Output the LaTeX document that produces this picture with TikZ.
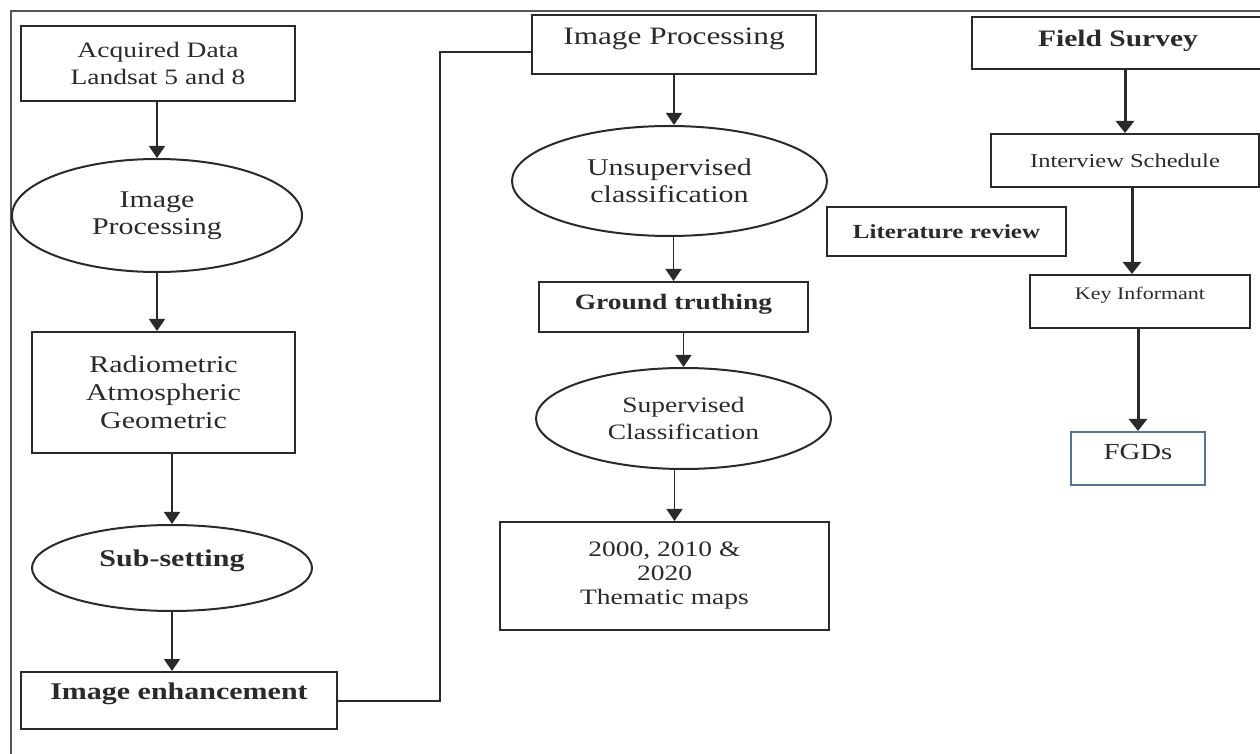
\documentclass[tikz,border=0pt]{standalone}
\usepackage{fontspec}
\setmainfont{Liberation Serif}[FakeStretch=1.25]
\usetikzlibrary{arrows.meta,shapes.geometric}
\definecolor{ink}{HTML}{2A2A2A}
\definecolor{frame}{HTML}{555555}
\definecolor{bluegray}{HTML}{5A7391}
\tikzset{
  box/.style={draw=ink, line width=1pt, rectangle, inner sep=0pt, align=center, text=ink},
  oval/.style={draw=ink, line width=1pt, ellipse, inner sep=0pt, align=center, text=ink},
  arr/.style={draw=ink, line width=0.75pt, -{Triangle[length=6pt,width=8pt]}},
  tarr/.style={draw=ink, line width=1.5pt, -{Triangle[length=6pt,width=9pt]}},
  big/.style={font=\fontsize{11}{13.5}\selectfont},
  large/.style={font=\fontsize{12}{13.5}\selectfont},
}
\begin{document}
\begin{tikzpicture}[x=0.5pt, y=-0.5pt]
\useasboundingbox (0,0) rectangle (1260,754);
% frame
\draw[frame, line width=0.75pt] (1262,11) -- (11,11) -- (11,756);
% left column
\node[box, big, minimum width=137pt, minimum height=37.5pt] (acq) at (158,63.5) {Acquired Data\\Landsat 5 and 8};
\node[oval, large, minimum width=145pt, minimum height=56.5pt] (ip1) at (157,215.5) {Image\\Processing};
\node[box, minimum width=131.5pt, minimum height=60.5pt, font=\fontsize{12}{14}\selectfont] (rad) at (163.5,392.5) {Radiometric\\Atmospheric\\Geometric};
\node[oval, minimum width=140pt, minimum height=43pt, text depth=10pt, font=\fontsize{12}{13.5}\selectfont\bfseries] (sub) at (172,568) {Sub-setting};
\node[box, minimum width=158pt, minimum height=28.5pt, text depth=9pt, font=\fontsize{12}{13.5}\selectfont\bfseries] (enh) at (179,700.5) {Image enhancement};
% middle column
\node[box, minimum width=142pt, minimum height=29.5pt, text depth=8.5pt, font=\fontsize{12.5}{14}\selectfont] (ip2) at (674,44.5) {Image Processing};
\node[oval, large, minimum width=157.5pt, minimum height=55pt] (uns) at (669.5,181) {Unsupervised\\classification};
\node[box, minimum width=134.5pt, minimum height=25pt, text depth=5pt, font=\fontsize{11}{13.5}\selectfont\bfseries] (gt) at (673.5,307) {Ground truthing};
\node[oval, big, minimum width=147.5pt, minimum height=50.5pt] (sup) at (683.5,418.5) {Supervised\\Classification};
\node[box, minimum width=164.5pt, minimum height=54pt, font=\fontsize{11}{12}\selectfont] (them) at (664.5,576) {2000, 2010 \&\\2020\\Thematic maps};
% right column
\node[box, minimum width=146pt, minimum height=26pt, text depth=5pt, font=\fontsize{11.8}{13.5}\selectfont\bfseries] (fs) at (1118,43) {Field Survey};
\node[box, minimum width=134pt, minimum height=26.5pt, font=\fontsize{9.8}{11}\selectfont] (is) at (1125,160.5) {Interview Schedule};
\node[box, minimum width=119.5pt, minimum height=24.5pt, font=\fontsize{10}{12}\selectfont\bfseries] (lit) at (946.5,231.5) {Literature review};
\node[box, minimum width=110pt, minimum height=26.5pt, text depth=8pt, font=\fontsize{8.8}{10}\selectfont] (ki) at (1140,301.5) {Key Informant};
\node[box, draw=bluegray, minimum width=67pt, minimum height=26.5pt, text depth=7pt, font=\fontsize{11.5}{12}\selectfont] (fgd) at (1138,458.5) {FGDs};
% left arrows
\draw[arr] (ip1.north |- acq.south) -- (ip1.north);
\draw[arr] (ip1.south) -- (ip1.south |- rad.north);
\draw[arr] (sub.north |- rad.south) -- (sub.north);
\draw[arr] (sub.south) -- (sub.south |- enh.north);
% link
\coordinate (c1) at (440,701);
\coordinate (c2) at (440,52);
\draw[ink, line width=0.75pt] (enh.east |- c1) -- (c1) -- (c2) -- (ip2.west |- c2);
% middle arrows
\draw[arr] (ip2.south) -- (ip2.south |- uns.north);
\draw[arr] (gt.north |- uns.south) -- (gt.north);
\draw[arr] (sup.north |- gt.south) -- (sup.north);
\draw[arr] ([xshift=5pt]them.north |- sup.south) -- ([xshift=5pt]them.north);
% right arrows
\draw[tarr] (is.north |- fs.south) -- (is.north);
\draw[tarr] ([xshift=-4pt]ki.north |- is.south) -- ([xshift=-4pt]ki.north);
\draw[tarr] (fgd.north |- ki.south) -- (fgd.north);
\end{tikzpicture}
\end{document}
